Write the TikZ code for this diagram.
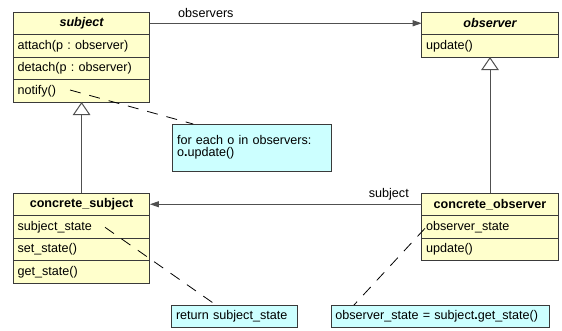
\documentclass[tikz,border=0pt]{standalone}
\usepackage{fontspec}
\setmainfont{Liberation Sans}
\usetikzlibrary{arrows.meta}
\definecolor{classfill}{HTML}{FFFFCC}
\definecolor{notefill}{HTML}{CCFFFF}
\definecolor{edge}{HTML}{3A3A3A}
\definecolor{wire}{HTML}{505050}

\begin{document}
\frenchspacing
\begin{tikzpicture}[x=1pt,y=-1pt,
  font=\fontsize{12.6}{14}\selectfont,
  row/.style={draw=edge, line width=0.9pt, fill=classfill, anchor=north west,
    outer sep=0pt, text width=128pt, inner xsep=4.3pt, inner ysep=0pt,
    minimum height=22.5pt, align=left},
  abstracthead/.style={row, align=center, font=\fontsize{12.6}{14}\selectfont\bfseries\itshape},
  concretehead/.style={row, align=center, font=\fontsize{12.6}{14}\selectfont\bfseries},
  note/.style={draw=edge, line width=0.9pt, fill=notefill, anchor=north west,
    outer sep=0pt, inner xsep=4.3pt, inner ysep=0pt, align=left,
    font=\fontsize{12.6}{12}\selectfont},
  assoc/.style={draw=wire, line width=0.9pt, -{Triangle[length=9pt,width=6pt]}},
  inherit/.style={draw=wire, line width=1pt, -{Triangle[length=13pt,width=17.5pt,fill=white]}},
  noteline/.style={draw=black, line width=0.8pt, dash pattern=on 11pt off 9pt},
  rolelabel/.style={inner sep=0pt, yshift=10pt}
]
\fill[white] (0,0) rectangle (562,330);
\useasboundingbox (0,0) rectangle (562,330);

% subject
\node[abstracthead] (s0) at (13.3,12) {subject};
\node[row] (s1) at (s0.south west) {attach(p : observer)};
\node[row] (s2) at (s1.south west) {detach(p : observer)};
\node[row] (s3) at (s2.south west) {notify()};

% observer
\node[abstracthead] (o0) at (421.7,12) {observer};
\node[row] (o1) at (o0.south west) {update()};

% concrete_subject
\node[concretehead] (cs0) at (13.3,193) {concrete\_subject};
\node[row] (cs1) at (cs0.south west) {subject\_state};
\node[row] (cs2) at (cs1.south west) {set\_state()};
\node[row] (cs3) at (cs2.south west) {get\_state()};

% concrete_observer
\node[concretehead] (co0) at (421.7,193) {concrete\_observer};
\node[row] (co1) at (co0.south west) {observer\_state};
\node[row] (co2) at (co1.south west) {update()};

% notes
\node[note, text width=150.4pt, minimum height=47pt] (n1) at (172.7,124)
  {for each o in observers:\\o\textbf{.}update()};
\node[note, text width=117pt, minimum height=22.5pt] (n2) at (171.7,305)
  {return subject\_state};
\node[note, text width=209.4pt, minimum height=22.5pt] (n3) at (331,305)
  {observer\_state = subject\textbf{.}get\_state()};

% associations
\draw[assoc] (s0.east) -- node[pos=0.206, rolelabel] {observers} (o0.west);
\draw[assoc] (co0.west) -- node[pos=0.121, rolelabel] {subject} (cs0.east);

% generalisations
\draw[inherit] (cs0.north) -- (s3.south);
\draw[inherit] (co0.north) -- (o1.south);

% note attachments
\coordinate (a1) at (70,90);
\coordinate (a2) at (105,227.3);
\coordinate (a3) at (425,228.3);
\draw[noteline] (a1) -- ([xshift=20.5pt]n1.north west);
\draw[noteline] (a2) -- ([xshift=44.3pt]n2.north west);
\draw[noteline] (a3) -- ([xshift=23pt]n3.north west);
\end{tikzpicture}
\end{document}
